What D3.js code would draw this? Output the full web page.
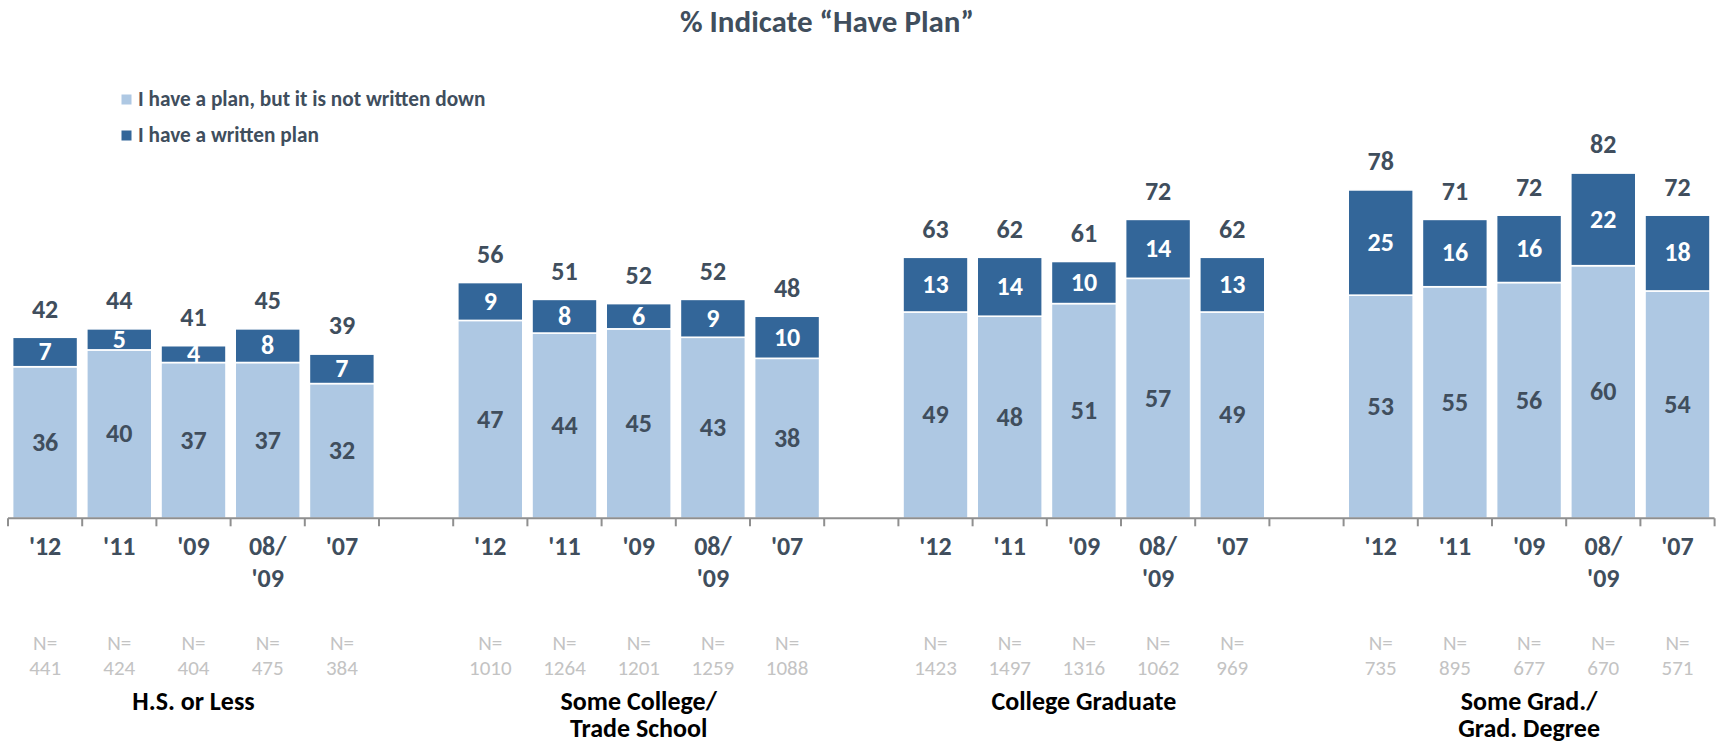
<!DOCTYPE html>
<html>
<head>
<meta charset="utf-8">
<script src="https://cdn.jsdelivr.net/npm/d3@7"></script>
<style>
  html, body { margin: 0; padding: 0; background: #fff; }
  svg { display: block; }
  text { font-family: Calibri, Carlito, "Open Sans", sans-serif; }
</style>
</head>
<body>
<script>
// ---------------- DATA ----------------
const title = "% Indicate \u201CHave Plan\u201D";
const seriesNames = ["I have a plan, but it is not written down", "I have a written plan"];
const years = ["'12", "'11", "'09", "08/'09", "'07"];
const yearLabels = [["'12"], ["'11"], ["'09"], ["08/", "'09"], ["'07"]];
const groupNames = [["H.S. or Less"], ["Some College/", "Trade School"], ["College Graduate"], ["Some Grad./", "Grad. Degree"]];

const notWritten = [
  [36, 40, 37, 37, 32],
  [47, 44, 45, 43, 38],
  [49, 48, 51, 57, 49],
  [53, 55, 56, 60, 54]
];
const written = [
  [7, 5, 4, 8, 7],
  [9, 8, 6, 9, 10],
  [13, 14, 10, 14, 13],
  [25, 16, 16, 22, 18]
];
const totals = [
  [42, 44, 41, 45, 39],
  [56, 51, 52, 52, 48],
  [63, 62, 61, 72, 62],
  [78, 71, 72, 82, 72]
];
const sampleN = [
  [441, 424, 404, 475, 384],
  [1010, 1264, 1201, 1259, 1088],
  [1423, 1497, 1316, 1062, 969],
  [735, 895, 677, 670, 571]
];

// ---------------- STYLE ----------------
const W = 1719, H = 741;
const colLight = "#AEC8E3", colDark = "#336699";
const textDark = "#404E5D", nGray = "#C3C3C3", axisGray = "#8F8F8F";
const mid = "0.32em";

// Build slot list: 5 years per group with an empty slot between groups
const slots = [];
groupNames.forEach((g, gi) => {
  years.forEach((yr, yi) => slots.push({key: gi + "|" + yi, gi, yi}));
  if (gi < groupNames.length - 1) slots.push({key: "gap" + gi, gi: -1});
});
const rows = slots.filter(s => s.gi >= 0).map(s => ({
  key: s.key, gi: s.gi, yi: s.yi,
  light: notWritten[s.gi][s.yi],
  dark: written[s.gi][s.yi],
  total: totals[s.gi][s.yi],
  n: sampleN[s.gi][s.yi]
}));

const x0 = 8, x1 = 1714.6;
const x = d3.scaleBand().domain(slots.map(s => s.key)).range([x0, x1])
  .paddingInner(0.124).paddingOuter(0.062);
const step = x.step();
const y = d3.scaleLinear().domain([0, 100]).range([518.3, 97.3]);

const svg = d3.select("body").append("svg").attr("width", W).attr("height", H);

// Title
svg.append("text").attr("x", 827).attr("y", 21.7).attr("dy", mid)
  .attr("text-anchor", "middle").attr("font-size", 31).attr("font-weight", 700)
  .attr("fill", textDark).text(title);

// Legend
const legendColors = [colLight, colDark];
const legendY = [99.5, 135.5];
seriesNames.forEach((name, i) => {
  svg.append("rect").attr("x", 121.5).attr("y", legendY[i] - 5).attr("width", 10).attr("height", 10)
    .attr("fill", legendColors[i]);
  svg.append("text").attr("x", 138).attr("y", legendY[i]).attr("dy", mid)
    .attr("font-size", 21.3).attr("font-weight", 700).attr("fill", textDark).text(name);
});

// Bars
const bars = svg.append("g");
bars.selectAll("rect.light").data(rows).join("rect").attr("class", "light")
  .attr("x", d => x(d.key)).attr("width", x.bandwidth())
  .attr("y", d => y(d.light)).attr("height", d => y(0) - y(d.light))
  .attr("fill", colLight).attr("stroke", "#fff").attr("stroke-width", 1.6);
bars.selectAll("rect.dark").data(rows).join("rect").attr("class", "dark")
  .attr("x", d => x(d.key)).attr("width", x.bandwidth())
  .attr("y", d => y(d.light + d.dark)).attr("height", d => y(d.light) - y(d.light + d.dark))
  .attr("fill", colDark).attr("stroke", "#fff").attr("stroke-width", 1.6);

// Axis line and ticks (at slot boundaries)
const axisY = y(0);
svg.append("line").attr("x1", x0).attr("x2", x1).attr("y1", axisY).attr("y2", axisY)
  .attr("stroke", axisGray).attr("stroke-width", 2);
svg.append("g").selectAll("line").data(d3.range(slots.length + 1)).join("line")
  .attr("x1", i => x0 + i * step).attr("x2", i => x0 + i * step)
  .attr("y1", axisY).attr("y2", axisY + 8)
  .attr("stroke", axisGray).attr("stroke-width", 2);

const cx = d => x(d.key) + x.bandwidth() / 2;

// Value labels
svg.append("g").selectAll("text").data(rows).join("text")
  .attr("x", cx).attr("y", d => y(d.light / 2)).attr("dy", mid)
  .attr("text-anchor", "middle").attr("font-size", 26).attr("font-weight", 700)
  .attr("fill", textDark).text(d => d.light);
svg.append("g").selectAll("text").data(rows).join("text")
  .attr("x", cx).attr("y", d => y(d.light + d.dark / 2)).attr("dy", mid)
  .attr("text-anchor", "middle").attr("font-size", 26).attr("font-weight", 700)
  .attr("fill", "#fff").text(d => d.dark);
svg.append("g").selectAll("text").data(rows).join("text")
  .attr("x", cx).attr("y", d => y(d.light + d.dark) - 28).attr("dy", mid)
  .attr("text-anchor", "middle").attr("font-size", 26).attr("font-weight", 700)
  .attr("fill", textDark).text(d => d.total);

// Category (year) labels
const yl = svg.append("g").selectAll("text").data(rows).join("text")
  .attr("x", cx).attr("y", 546.7)
  .attr("text-anchor", "middle").attr("font-size", 26).attr("font-weight", 700)
  .attr("fill", textDark);
yl.selectAll("tspan").data(d => yearLabels[d.yi].map(t => ({t, x: cx(d)}))).join("tspan")
  .attr("x", t => t.x).attr("dy", (t, i) => i === 0 ? mid : 31.6).text(t => t.t);

// N labels
const nl = svg.append("g").selectAll("text").data(rows).join("text")
  .attr("x", cx).attr("y", 643.3)
  .attr("text-anchor", "middle").attr("font-size", 21)
  .attr("fill", nGray);
nl.append("tspan").attr("x", cx).attr("dy", mid).text("N=");
nl.append("tspan").attr("x", cx).attr("dy", 25).text(d => d.n);

// Group labels
const groupCenters = groupNames.map((g, gi) => {
  const first = x(gi + "|0"), last = x(gi + "|4") + x.bandwidth();
  return (first + last) / 2;
});
const gl = svg.append("g").selectAll("text").data(groupNames).join("text")
  .attr("x", (d, i) => groupCenters[i]).attr("y", 701.7)
  .attr("text-anchor", "middle").attr("font-size", 26).attr("font-weight", 700)
  .attr("fill", "#000");
gl.each(function(lines, gi) {
  d3.select(this).selectAll("tspan").data(lines).join("tspan")
    .attr("x", groupCenters[gi]).attr("dy", (t, i) => i === 0 ? mid : 26.5).text(t => t);
});
</script>
</body>
</html>
